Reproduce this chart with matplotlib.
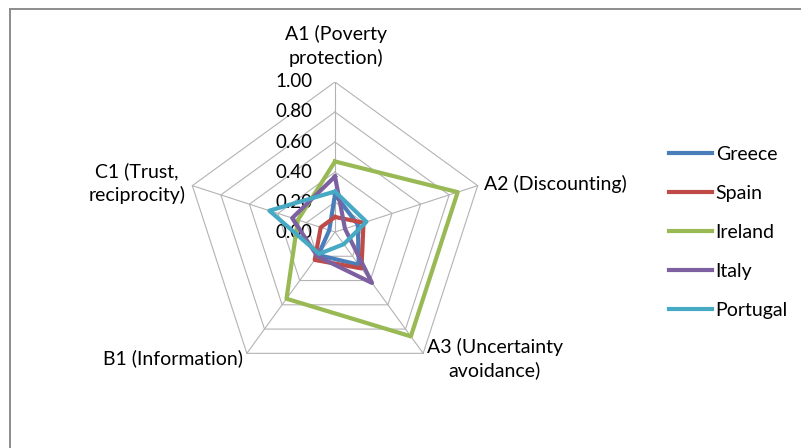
import numpy as np
import matplotlib
matplotlib.use("Agg")
import matplotlib.pyplot as plt
from matplotlib.lines import Line2D

categories = ["A1 (Poverty\nprotection)", "A2 (Discounting)", "A3 (Uncertainty\navoidance)",
              "B1 (Information)", "C1 (Trust,\nreciprocity)"]
series_names = ["Greece", "Spain", "Ireland", "Italy", "Portugal"]
greece   = [0.25, 0.16, 0.27, 0.19, 0.04]
spain    = [0.10, 0.20, 0.30, 0.23, 0.10]
ireland  = [0.47, 0.86, 0.86, 0.55, 0.26]
italy    = [0.37, 0.07, 0.42, 0.20, 0.30]
portugal = [0.27, 0.22, 0.10, 0.18, 0.46]
tick_values = [0.0, 0.2, 0.4, 0.6, 0.8, 1.0]
tick_labels = ["0.00", "0.20", "0.40", "0.60", "0.80", "1.00"]
colors = ["#4A7EBB", "#BE4B48", "#98B954", "#7D60A0", "#46AAC5"]

plt.rcParams['font.family'] = ['Lato', 'DejaVu Sans']
FS = 14

W, H = 801, 448
fig = plt.figure(figsize=(W / 100, H / 100), dpi=100)
cx, cy, R = 335, 232, 150
ax = fig.add_axes([(cx - R) / W, (H - cy - R) / H, 2 * R / W, 2 * R / H])
ax.set_xlim(-1, 1)
ax.set_ylim(-1, 1)
ax.axis("off")

n = len(categories)
ang = np.pi / 2 - 2 * np.pi * np.arange(n) / n
angc = np.append(ang, ang[0])

grid_color = "#b3b3b3"
for t in tick_values[1:]:
    ax.plot(t * np.cos(angc), t * np.sin(angc), color=grid_color, lw=0.8, zorder=1)
for a in ang:
    ax.plot([0, np.cos(a)], [0, np.sin(a)], color=grid_color, lw=0.8, zorder=1)

data = [greece, spain, ireland, italy, portugal]
for vals, c, name in zip(data, colors, series_names):
    v = np.append(vals, vals[0])
    ax.plot(v * np.cos(angc), v * np.sin(angc), color=c, lw=3.0,
            solid_joinstyle="round", zorder=3, label=name)

for t, lab in zip(tick_values, tick_labels):
    ax.annotate(lab, xy=(0, t), xytext=(-16, 0), textcoords="offset points",
                ha="right", va="center", fontsize=13.5, color="#000000", zorder=2)

def ftext(x, y, s, ha):
    fig.text(x / W, 1 - y / H, s, ha=ha, va="center", fontsize=FS,
             linespacing=1.35, multialignment="center")

ftext(336, 46, categories[0], "center")
ftext(484, 184, categories[1], "left")
ftext(495, 359, categories[2], "center")
ftext(243, 358, categories[3], "right")
ftext(137, 183, categories[4], "center")

handles = [Line2D([], [], color=c, lw=3.0) for c in colors]
fig.legend(handles, series_names, loc="upper left",
           bbox_to_anchor=(669 / W, 1 - 145.5 / H), frameon=False, fontsize=FS,
           handlelength=2.2, handletextpad=0.2, labelspacing=1.14, borderpad=0,
           borderaxespad=0)

fig.add_artist(Line2D([9.5 / W, 9.5 / W], [0, 1 - 9.5 / H], color="#8c8c8c", lw=1.4,
                      transform=fig.transFigure))
fig.add_artist(Line2D([9.5 / W, 1], [1 - 9.5 / H, 1 - 9.5 / H], color="#8c8c8c", lw=1.4,
                      transform=fig.transFigure))

fig.savefig("out.png", dpi=100)
